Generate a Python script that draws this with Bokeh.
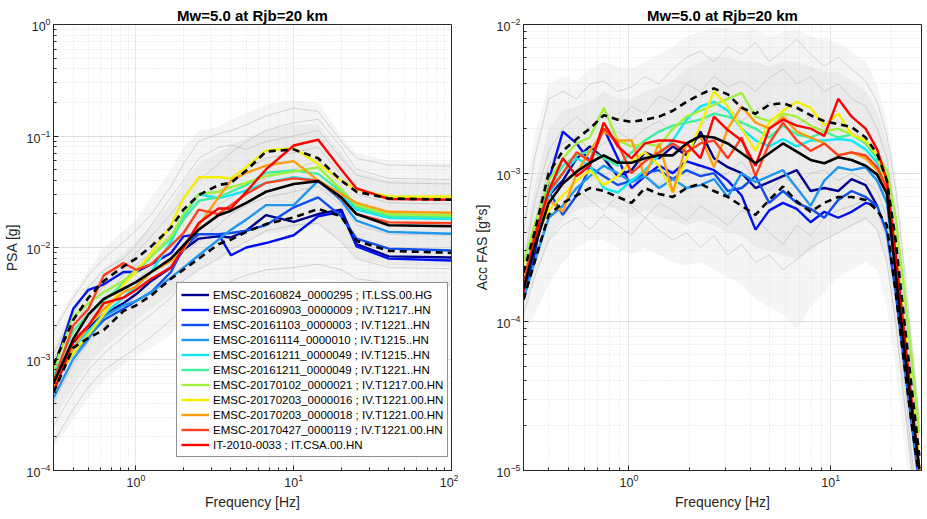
import numpy as np
from bokeh.plotting import figure
from bokeh.layouts import row
from bokeh.models import Range1d, Legend, LegendItem, FixedTicker, LogTickFormatter
from bokeh.embed import file_html
from bokeh.resources import INLINE

TITLE = "Mw=5.0 at Rjb=20 km"
FONT = "Liberation Sans"

# ---------------- PSA panel data (log10 of PSA [g]) ----------------
psa_freq = [0.3, 0.4, 0.5, 0.625, 0.833, 1.0, 1.25, 1.667, 2.0, 2.5, 3.333, 4.0, 5.0, 6.667, 10.0, 14.29, 20.0, 25.0, 40.0, 100.0]

psa_env_hi = [-2.70, -2.40, -2.20, -2.00, -1.85, -1.75, -1.55, -1.30, -1.10, -0.95, -0.92, -0.85, -0.80, -0.72, -0.68, -0.70, -1.00, -1.15, -1.22, -1.24]
psa_env_lo = [-3.80, -3.55, -3.35, -3.20, -3.05, -2.98, -2.90, -2.78, -2.68, -2.58, -2.50, -2.42, -2.38, -2.32, -2.30, -2.28, -2.30, -2.32, -2.34, -2.35]
psa_core_hi = [-2.90, -2.55, -2.35, -2.20, -2.05, -1.95, -1.80, -1.60, -1.42, -1.25, -1.15, -1.08, -1.02, -0.95, -0.90, -0.90, -1.15, -1.32, -1.40, -1.41]
psa_core_lo = [-3.55, -3.25, -3.05, -2.90, -2.75, -2.65, -2.55, -2.42, -2.30, -2.20, -2.10, -2.02, -1.95, -1.88, -1.84, -1.80, -1.95, -2.10, -2.16, -2.17]

psa_gray = [
    [-2.75, -2.45, -2.25, -2.10, -1.95, -1.85, -1.70, -1.45, -1.25, -1.05, -0.98, -0.95, -0.90, -0.82, -0.75, -0.78, -1.05, -1.20, -1.26, -1.27],
    [-3.00, -2.70, -2.50, -2.35, -2.20, -2.05, -1.90, -1.70, -1.55, -1.40, -1.25, -1.15, -1.05, -0.95, -0.88, -0.85, -1.10, -1.30, -1.38, -1.39],
    [-3.20, -2.90, -2.65, -2.45, -2.25, -2.15, -2.05, -1.88, -1.75, -1.60, -1.50, -1.40, -1.30, -1.20, -1.15, -1.10, -1.35, -1.52, -1.60, -1.61],
    [-3.40, -3.05, -2.85, -2.70, -2.55, -2.42, -2.30, -2.15, -2.05, -1.95, -1.80, -1.70, -1.62, -1.55, -1.50, -1.45, -1.62, -1.80, -1.88, -1.89],
    [-3.60, -3.30, -3.10, -2.95, -2.80, -2.70, -2.60, -2.45, -2.30, -2.20, -2.10, -2.02, -1.95, -1.85, -1.80, -1.78, -1.95, -2.10, -2.18, -2.19],
    [-3.75, -3.45, -3.25, -3.10, -2.98, -2.90, -2.80, -2.65, -2.55, -2.45, -2.35, -2.30, -2.25, -2.20, -2.18, -2.15, -2.20, -2.28, -2.32, -2.33],
    [-2.95, -2.60, -2.35, -2.20, -2.10, -1.98, -1.80, -1.55, -1.40, -1.20, -1.10, -1.08, -1.12, -1.05, -1.00, -0.95, -1.20, -1.35, -1.42, -1.43],
    [-3.30, -3.00, -2.78, -2.58, -2.40, -2.30, -2.18, -2.00, -1.88, -1.72, -1.62, -1.55, -1.48, -1.38, -1.30, -1.22, -1.45, -1.65, -1.72, -1.73],
]

psa_median = [-3.22, -2.82, -2.60, -2.46, -2.37, -2.31, -2.22, -2.10, -1.98, -1.84, -1.71, -1.67, -1.60, -1.50, -1.43, -1.405, -1.55, -1.70, -1.80, -1.81]
psa_upper = [-3.05, -2.65, -2.45, -2.30, -2.17, -2.10, -1.99, -1.82, -1.66, -1.53, -1.44, -1.42, -1.31, -1.14, -1.12, -1.20, -1.40, -1.50, -1.56, -1.572]
psa_lower = [-3.30, -2.90, -2.81, -2.74, -2.57, -2.52, -2.43, -2.28, -2.20, -2.10, -1.97, -1.93, -1.86, -1.79, -1.73, -1.655, -1.72, -1.94, -2.03, -2.048]

psa_rec = [
    [-3.25, -2.85, -2.72, -2.60, -2.50, -2.42, -2.30, -2.18, -2.02, -1.92, -1.90, -1.91, -1.85, -1.71, -1.77, -1.70, -1.66, -1.97, -2.08, -2.09],
    [-3.10, -2.55, -2.38, -2.33, -2.22, -2.22, -2.15, -2.05, -1.90, -1.88, -1.88, -2.07, -2.00, -1.96, -1.89, -1.72, -1.68, -1.99, -2.10, -2.117],
    [-3.20, -2.95, -2.80, -2.65, -2.55, -2.48, -2.40, -2.22, -2.00, -1.88, -1.88, -1.87, -1.85, -1.80, -1.64, -1.55, -1.72, -1.92, -2.01, -2.027],
    [-3.35, -3.00, -2.82, -2.62, -2.52, -2.48, -2.40, -2.27, -2.18, -2.07, -1.93, -1.84, -1.75, -1.62, -1.62, -1.40, -1.58, -1.76, -1.86, -1.877],
    [-3.25, -2.90, -2.75, -2.60, -2.45, -2.35, -2.22, -1.95, -1.72, -1.52, -1.56, -1.53, -1.49, -1.42, -1.37, -1.40, -1.52, -1.66, -1.735, -1.742],
    [-3.15, -2.75, -2.60, -2.48, -2.32, -2.22, -2.08, -1.92, -1.75, -1.58, -1.55, -1.50, -1.44, -1.33, -1.31, -1.34, -1.50, -1.64, -1.72, -1.728],
    [-3.10, -2.62, -2.50, -2.40, -2.30, -2.20, -2.08, -1.90, -1.70, -1.52, -1.50, -1.46, -1.42, -1.36, -1.32, -1.28, -1.48, -1.62, -1.70, -1.713],
    [-3.20, -2.95, -2.78, -2.60, -2.33, -2.22, -2.05, -1.80, -1.56, -1.37, -1.37, -1.38, -1.28, -1.13, -1.11, -1.25, -1.40, -1.48, -1.545, -1.543],
    [-3.25, -2.90, -2.70, -2.55, -2.40, -2.35, -2.22, -2.12, -2.02, -1.80, -1.55, -1.40, -1.33, -1.265, -1.225, -1.40, -1.52, -1.60, -1.68, -1.689],
    [-3.20, -2.70, -2.55, -2.25, -2.14, -2.20, -2.15, -1.98, -1.87, -1.66, -1.70, -1.62, -1.52, -1.42, -1.38, -1.40, -1.56, -1.70, -1.775, -1.782],
    [-3.30, -2.84, -2.70, -2.50, -2.45, -2.38, -2.28, -2.18, -2.00, -1.78, -1.65, -1.65, -1.50, -1.30, -1.085, -1.034, -1.30, -1.47, -1.565, -1.572],
]

rec_labels = [
    "EMSC-20160824_0000295 ; IT.LSS.00.HG",
    "EMSC-20160903_0000009 ; IV.T1217..HN",
    "EMSC-20161103_0000003 ; IV.T1221..HN",
    "EMSC-20161114_0000010 ; IV.T1215..HN",
    "EMSC-20161211_0000049 ; IV.T1215..HN",
    "EMSC-20161211_0000049 ; IV.T1221..HN",
    "EMSC-20170102_0000021 ; IV.T1217.00.HN",
    "EMSC-20170203_0000016 ; IV.T1221.00.HN",
    "EMSC-20170203_0000018 ; IV.T1221.00.HN",
    "EMSC-20170427_0000119 ; IV.T1221.00.HN",
    "IT-2010-0033 ; IT.CSA.00.HN",
]
rec_colors = ["#00008F", "#0010F0", "#0F4FEF", "#1F96F0", "#10E8F8", "#40F0A0",
              "#A0F040", "#F5F000", "#FF9F10", "#FF4020", "#FF0000"]

# ---------------- FAS panel data (log10 of Acc FAS [g*s]) ----------------
nan = float("nan")
fas_freq = [0.30, 0.34, 0.40, 0.47, 0.55, 0.64, 0.75, 0.88, 1.03, 1.20, 1.41, 1.65, 1.93, 2.26, 2.64, 3.09,
            3.62, 4.24, 4.96, 5.80, 6.79, 7.95, 9.30, 10.9, 12.7, 14.9, 17.0, 19.0, 21.0, 23.0, 25.0, 27.5]

fas_env_hi = [-3.20, -2.75, -2.40, -2.35, -2.38, -2.30, -2.25, -2.28, -2.30, -2.25, -2.20, -2.15, -2.08, -2.05, -2.02, -2.02,
              -2.05, -2.03, -2.08, -2.05, -2.03, -2.08, -2.10, -2.12, -2.18, -2.25, -2.40, -2.65, -3.00, -3.50, -4.00, -4.60]
fas_env_lo = [-4.10, -3.95, -3.75, -3.60, -3.50, -3.45, -3.45, -3.50, -3.55, -3.50, -3.55, -3.60, -3.62, -3.60, -3.65, -3.70,
              -3.75, -3.85, -3.90, -3.95, -4.05, -3.90, -3.80, -3.70, -3.65, -3.60, -3.65, -3.90, -4.30, -4.80, -5.20, -5.60]
fas_core_hi = [-3.50, -3.10, -2.70, -2.58, -2.55, -2.52, -2.45, -2.50, -2.50, -2.45, -2.42, -2.38, -2.30, -2.25, -2.22, -2.22,
               -2.25, -2.25, -2.28, -2.25, -2.25, -2.28, -2.32, -2.32, -2.38, -2.45, -2.58, -2.80, -3.20, -3.70, -4.20, -4.75]
fas_core_lo = [-3.95, -3.70, -3.45, -3.32, -3.25, -3.22, -3.20, -3.25, -3.30, -3.25, -3.30, -3.32, -3.35, -3.32, -3.35, -3.40,
               -3.42, -3.50, -3.52, -3.55, -3.58, -3.52, -3.45, -3.40, -3.36, -3.32, -3.38, -3.60, -4.05, -4.55, -5.00, -5.45]

fas_gray = [
    [-3.40, -2.90, -2.50, -2.45, -2.50, -2.40, -2.38, -2.45, -2.42, -2.35, -2.40, -2.30, -2.22, -2.18, -2.25, -2.15,
     -2.20, -2.12, -2.25, -2.18, -2.10, -2.20, -2.28, -2.22, -2.30, -2.38, -2.52, -2.75, -3.10, -3.60, -4.10, -4.65],
    [-3.60, -3.20, -2.85, -2.70, -2.62, -2.70, -2.58, -2.65, -2.55, -2.60, -2.48, -2.52, -2.40, -2.45, -2.35, -2.42,
     -2.38, -2.45, -2.36, -2.30, -2.40, -2.35, -2.45, -2.40, -2.50, -2.55, -2.70, -2.90, -3.30, -3.80, -4.30, -4.85],
    [-3.80, -3.45, -3.15, -3.05, -2.98, -3.05, -2.95, -3.05, -3.10, -3.00, -3.08, -2.98, -3.02, -2.95, -3.05, -3.00,
     -2.92, -3.05, -3.12, -3.02, -3.10, -3.00, -2.98, -3.05, -3.00, -3.05, -3.12, -3.30, -3.70, -4.20, -4.65, -5.10],
    [-3.95, -3.70, -3.45, -3.35, -3.30, -3.38, -3.28, -3.35, -3.42, -3.30, -3.38, -3.45, -3.40, -3.50, -3.42, -3.55,
     -3.48, -3.60, -3.55, -3.65, -3.58, -3.50, -3.45, -3.40, -3.35, -3.30, -3.38, -3.60, -4.00, -4.50, -4.95, -5.40],
    [-3.70, -3.35, -2.95, -2.80, -2.75, -2.85, -2.80, -2.72, -2.78, -2.70, -2.65, -2.72, -2.62, -2.68, -2.60, -2.55,
     -2.65, -2.58, -2.52, -2.60, -2.68, -2.62, -2.70, -2.65, -2.72, -2.78, -2.88, -3.05, -3.45, -3.95, -4.45, -4.95],
    [-3.85, -3.55, -3.30, -3.20, -3.10, -3.18, -3.25, -3.15, -3.22, -3.30, -3.20, -3.25, -3.32, -3.22, -3.28, -3.35,
     -3.25, -3.30, -3.40, -3.48, -3.35, -3.42, -3.30, -3.25, -3.22, -3.18, -3.25, -3.45, -3.85, -4.35, -4.85, -5.30],
]

fas_median = [-3.78, -3.50, -3.20, -3.07, -2.99, -2.93, -2.88, -2.93, -2.93, -2.90, -2.88, -2.88, -2.80, -2.75, -2.76, -2.80,
              -2.866, -2.933, -2.866, -2.80, -2.855, -2.911, -2.933, -2.893, -2.911, -2.95, -3.01, -3.14, -3.68, -4.15, -4.55, -4.99]
fas_upper = [-3.67, -3.40, -3.00, -2.85, -2.77, -2.70, -2.61, -2.64, -2.655, -2.64, -2.62, -2.58, -2.52, -2.47, -2.43, -2.47,
             -2.56, -2.60, -2.54, -2.53, -2.56, -2.61, -2.65, -2.67, -2.69, -2.76, -2.87, -3.05, -3.45, -3.95, -4.40, -4.90]
fas_lower = [-3.85, -3.60, -3.28, -3.20, -3.15, -3.10, -3.12, -3.16, -3.20, -3.10, -3.14, -3.16, -3.10, -3.07, -3.12, -3.16,
             -3.22, -3.28, -3.18, -3.09, -3.19, -3.26, -3.20, -3.16, -3.16, -3.18, -3.25, -3.35, -3.80, -4.25, -4.65, -5.05]

fas_rec = [
    [-3.80, -3.50, -3.15, -3.05, -2.90, -2.82, -2.90, -3.02, -2.98, -2.86, -2.90, -2.82, -2.88, -2.72, -2.90, -2.96,
     -3.00, -3.10, -3.06, -3.02, -2.98, -3.12, -3.10, -3.12, -3.04, -3.08, -3.22, nan, nan, nan, nan, nan],
    [-3.85, -3.55, -3.05, -2.72, -2.80, -2.92, -2.70, -2.90, -3.10, -3.02, -2.95, -3.00, -2.92, -2.95, -2.98, -3.05,
     -3.15, -3.38, -3.25, -3.20, -3.24, -3.33, -3.26, -3.30, -3.26, -3.20, -3.22, nan, nan, nan, nan, nan],
    [-3.80, -3.50, -3.12, -3.28, -3.15, -2.96, -3.02, -3.08, -3.05, -3.00, -2.98, -3.04, -2.98, -3.02, -3.00, -3.12,
     -3.10, -3.02, -3.20, -3.12, -3.20, -3.24, -3.30, -3.18, -3.12, -3.16, -3.22, -3.40, -3.80, -4.25, -4.65, -5.10],
    [-3.85, -3.60, -3.30, -3.22, -3.10, -3.02, -2.95, -3.00, -3.06, -3.02, -3.10, -3.04, -3.10, -3.08, -3.04, -3.16,
     -3.00, -3.06, -3.02, -2.98, -3.10, -3.22, -3.05, -2.96, -2.98, -2.96, -3.05, -3.20, -3.65, -4.15, -4.60, -5.05],
    [-3.75, -3.50, -3.15, -3.00, -2.90, -2.95, -3.10, -3.13, -3.05, -2.98, -2.88, -2.78, -2.64, -2.55, -2.52, -2.58,
     -2.70, -2.78, -2.82, -2.77, -2.82, -2.78, -2.78, -2.77, -2.78, -2.84, -2.93, -3.10, -3.55, -4.05, -4.50, -5.00],
    [-3.72, -3.42, -3.10, -2.95, -2.88, -2.85, -2.90, -2.95, -2.86, -2.78, -2.72, -2.68, -2.66, -2.64, -2.60, -2.62,
     -2.66, -2.70, -2.76, -2.68, -2.74, -2.76, -2.72, -2.76, -2.74, -2.80, -2.90, -3.06, -3.50, -4.00, -4.48, -4.98],
    [-3.60, -3.35, -3.05, -2.90, -2.80, -2.76, -2.56, -2.78, -2.82, -2.80, -2.82, -2.70, -2.62, -2.58, -2.54, -2.50,
     -2.46, -2.62, -2.65, -2.60, -2.62, -2.68, -2.72, -2.70, -2.74, -2.79, -2.87, -2.98, -3.30, -3.75, -4.20, -4.75],
    [-3.70, -3.45, -3.25, -3.15, -3.05, -2.98, -3.08, -3.02, -2.92, -2.86, -2.95, -3.13, -2.90, -2.68, -2.45, -2.55,
     -2.70, -2.85, -2.66, -2.58, -2.52, -2.56, -2.68, -2.60, -2.74, -2.78, -2.88, -3.08, -3.50, -4.00, -4.45, -4.95],
    [-3.75, -3.40, -3.18, -3.26, -3.00, -2.85, -2.72, -2.78, -2.78, -3.02, -2.80, -3.13, -2.80, -2.75, -2.96, -2.70,
     -2.55, -2.66, -2.70, -2.62, -2.72, -2.76, -2.80, -2.88, -2.86, -2.90, -2.98, -3.12, -3.55, -4.05, -4.50, -5.00],
    [-3.75, -3.42, -3.12, -3.00, -2.86, -2.92, -2.70, -2.80, -3.00, -2.92, -2.86, -2.80, -2.86, -2.80, -2.78, -2.90,
     -2.76, -3.02, -2.80, -2.66, -2.78, -2.85, -2.80, -2.88, -2.86, -2.88, -2.96, -3.10, -3.55, -4.05, -4.50, -5.00],
    [-3.80, -3.45, -3.12, -2.90, -3.02, -2.95, -2.66, -2.82, -2.90, -2.80, -2.78, -2.78, -2.80, -2.90, -2.62, -2.71,
     -2.78, -2.95, -2.70, -2.64, -2.68, -2.70, -2.75, -2.50, -2.62, -2.70, -2.84, -3.05, -3.55, -4.05, -4.50, -4.98],
]

# tick positions
psa_x_ticks = [1, 10, 100]
fas_x_ticks = [1, 10]
fas_x_minor = [0.3, 0.4, 0.5, 0.6, 0.7, 0.8, 0.9, 2, 3, 4, 5, 6, 7, 8, 9, 20]


def pw(a):
    return 10.0 ** np.asarray(a, dtype=float)


def style(p, ylabel):
    p.title.text_font = FONT
    p.title.text_font_size = "15px"
    p.title.text_font_style = "bold"
    p.title.align = "center"
    p.title.text_color = "#000000"
    p.title.standoff = 2
    p.outline_line_color = "#262626"
    p.outline_line_width = 1
    p.outline_line_alpha = 1
    for ax in (p.xaxis[0], p.yaxis[0]):
        ax.axis_line_color = "#262626"
        ax.major_tick_line_color = "#262626"
        ax.minor_tick_line_color = "#262626"
        ax.major_tick_in = 5
        ax.major_tick_out = 0
        ax.minor_tick_in = 3
        ax.minor_tick_out = 0
        ax.major_label_text_font = FONT
        ax.major_label_text_font_size = "12.5px"
        ax.major_label_text_color = "#262626"
        ax.axis_label_text_font = FONT
        ax.axis_label_text_font_size = "14px"
        ax.axis_label_text_font_style = "normal"
        ax.axis_label_text_color = "#262626"
        ax.major_label_standoff = 3
        ax.axis_label_standoff = 4
    p.xaxis.axis_label = "Frequency [Hz]"
    p.yaxis.axis_label = ylabel
    p.grid.grid_line_color = "#cfcfcf"
    p.grid.grid_line_dash = "1 1"
    p.grid.minor_grid_line_color = "#e0e0e0"
    p.grid.minor_grid_line_dash = "1 2"
    p.background_fill_color = "white"
    p.border_fill_color = "white"


# ---------------- Left: PSA ----------------
p1 = figure(width=458, height=519, x_axis_type="log", y_axis_type="log",
            x_range=Range1d(0.3, 100), y_range=Range1d(1e-4, 1.0),
            output_backend="svg", toolbar_location=None, title=TITLE,
            min_border_left=51, min_border_right=7, min_border_top=24, min_border_bottom=49)
style(p1, "PSA [g]")
p1.xaxis[0].ticker = FixedTicker(ticks=psa_x_ticks,
                                 minor_ticks=[0.3, 0.4, 0.5, 0.6, 0.7, 0.8, 0.9, 2, 3, 4, 5, 6, 7, 8, 9,
                                              20, 30, 40, 50, 60, 70, 80, 90])
p1.xaxis[0].formatter = LogTickFormatter()
p1.xgrid[0].ticker = p1.xaxis[0].ticker

p1.varea(x=psa_freq, y1=pw(psa_env_lo), y2=pw(psa_env_hi), fill_color="#dcdcdc", fill_alpha=0.28)
p1.varea(x=psa_freq, y1=pw(psa_core_lo), y2=pw(psa_core_hi), fill_color="#d0d0d0", fill_alpha=0.28)
for g in psa_gray:
    p1.line(psa_freq, pw(g), line_color="#b8b8b8", line_width=0.7, line_alpha=0.8)

items = []
for vals, col, lab in zip(psa_rec, rec_colors, rec_labels):
    r = p1.line(psa_freq, pw(vals), line_color=col, line_width=2.4)
    items.append(LegendItem(label=lab, renderers=[r]))
p1.line(psa_freq, pw(psa_median), line_color="black", line_width=2.6)
p1.line(psa_freq, pw(psa_upper), line_color="black", line_width=2.6, line_dash="7 5")
p1.line(psa_freq, pw(psa_lower), line_color="black", line_width=2.6, line_dash="7 5")

legend = Legend(items=items, location=(123, 13), label_text_font=FONT, label_text_font_size="11.5px",
                label_text_color="#000000", label_height=15, glyph_height=15, glyph_width=28,
                spacing=0, padding=4, margin=0, label_standoff=4,
                border_line_color="#262626", border_line_width=1, background_fill_alpha=1)
p1.add_layout(legend)

# ---------------- Right: FAS ----------------
p2 = figure(width=469, height=519, x_axis_type="log", y_axis_type="log",
            x_range=Range1d(0.3, 28.2), y_range=Range1d(1e-5, 1e-2),
            output_backend="svg", toolbar_location=None, title=TITLE,
            min_border_left=65, min_border_right=6, min_border_top=24, min_border_bottom=47)
style(p2, "Acc FAS [g*s]")
p2.xaxis[0].ticker = FixedTicker(ticks=fas_x_ticks, minor_ticks=fas_x_minor)
p2.xaxis[0].formatter = LogTickFormatter()
p2.xgrid[0].ticker = p2.xaxis[0].ticker

p2.varea(x=fas_freq, y1=pw(fas_env_lo), y2=pw(fas_env_hi), fill_color="#dcdcdc", fill_alpha=0.28)
p2.varea(x=fas_freq, y1=pw(fas_core_lo), y2=pw(fas_core_hi), fill_color="#d0d0d0", fill_alpha=0.28)
for g in fas_gray:
    p2.line(fas_freq, pw(g), line_color="#b8b8b8", line_width=0.7, line_alpha=0.8)
for vals, col in zip(fas_rec, rec_colors):
    p2.line(fas_freq, pw(vals), line_color=col, line_width=2.4)
p2.line(fas_freq, pw(fas_median), line_color="black", line_width=2.6)
p2.line(fas_freq, pw(fas_upper), line_color="black", line_width=2.6, line_dash="7 5")
p2.line(fas_freq, pw(fas_lower), line_color="black", line_width=2.6, line_dash="7 5")

layout = row(p1, p2)
open("out.html", "w").write(file_html(layout, INLINE))
